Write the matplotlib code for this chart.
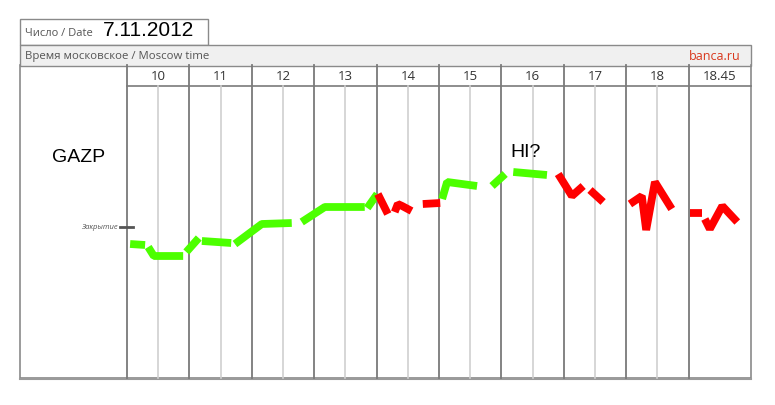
import matplotlib
matplotlib.use("Agg")
import matplotlib.pyplot as plt

# часы (колонки) и штрихи графика GAZP, 7.11.2012
hours = ["10", "11", "12", "13", "14", "15", "16", "17", "18", "18.45"]
close_price = 147.20

stroke_times = [
    [10.05, 10.29],
    [10.34, 10.43, 10.90],
    [10.95, 11.15],
    [11.20, 11.67],
    [11.73, 12.16, 12.64],
    [12.80, 13.17, 13.81],
    [13.85, 14.01],
    [14.02, 14.18],
    [14.29, 14.34, 14.41, 14.56],
    [14.74, 15.02],
    [15.05, 15.13, 15.61],
    [15.85, 16.06],
    [16.19, 16.73],
    [16.91, 17.13, 17.31],
    [17.42, 17.63],
    [18.06, 18.25, 18.32, 18.46, 18.73],
    [19.02, 19.21],
    [19.26, 19.34, 19.54, 19.78],
]
stroke_prices = [
    [146.35, 146.30],
    [146.20, 145.75, 145.75],
    [145.95, 146.65],
    [146.50, 146.40],
    [146.35, 147.35, 147.40],
    [147.45, 148.20, 148.20],
    [148.15, 148.85],
    [148.85, 147.85],
    [147.95, 148.35, 148.25, 148.00],
    [148.35, 148.40],
    [148.60, 149.45, 149.25],
    [149.25, 149.85],
    [149.95, 149.80],
    [149.85, 148.75, 149.25],
    [149.05, 148.45],
    [148.35, 148.75, 147.05, 149.45, 148.10],
    [147.90, 147.90],
    [147.60, 147.10, 148.25, 147.45],
]
stroke_colors = ["green"] * 7 + ["red"] * 3 + ["green"] * 3 + ["red"] * 5

W, H = 775, 406
fig = plt.figure(figsize=(W / 100, H / 100), dpi=100)

# рамка и шапка в пикселях
frame = fig.add_axes([0, 0, 1, 1])
frame.set_xlim(0, W)
frame.set_ylim(H, 0)
frame.axis("off")

dark = "#7a7a7a"
light = "#cfcfcf"
x0, x1 = 127, 751
colw = (x1 - x0) / 10

# коробка с датой
frame.add_patch(plt.Rectangle((20, 19.5), 188, 26, fill=False, ec="#8a8a8a", lw=1))
frame.text(25, 34, "Число / Date", fontsize=8, color="#555555",
           family="Open Sans", va="center")
frame.text(103, 31, "7.11.2012", fontsize=15, color="black",
           family="Liberation Sans", va="center")

# полоса заголовка
frame.add_patch(plt.Rectangle((20, 45.5), 731, 21, fc="#f0f0f0", ec="#8a8a8a", lw=1))
frame.text(25, 56, "Время московское / Moscow time", fontsize=8.2,
           color="#555555", family="Open Sans", va="center")
frame.text(741, 56, "banca.ru", fontsize=9, color="#d9371c",
           family="Open Sans", va="center", ha="right")

# внешняя рамка
frame.plot([20, 20, 751, 751], [66, 379, 379, 66], color="#8a8a8a", lw=1.2)
frame.plot([x0, x1], [87, 87], color=dark, lw=1.2)
frame.plot([20, 751], [379.5, 379.5], color="#9a9a9a", lw=1.5)

for i, h in enumerate(hours):
    xl = x0 + i * colw
    frame.plot([xl, xl], [66, 379], color=dark, lw=1.3)
    frame.text(xl + colw / 2, 76, h, fontsize=9.5, color="#333333",
               family="Open Sans", ha="center", va="center")
    if i < 9:
        frame.plot([xl + colw / 2] * 2, [87, 379], color=light, lw=1.2)

# график
ax = fig.add_axes([x0 / W, 1 - 379 / H, (x1 - x0) / W, (379 - 87) / H])
ax.set_xlim(10, 20)
ax.set_ylim(139.65, 154.25)
ax.axis("off")
ax.patch.set_alpha(0)

cmap = {"green": "#4cff00", "red": "#ff0000"}
for t, p, c in zip(stroke_times, stroke_prices, stroke_colors):
    ax.plot(t, p, color=cmap[c], lw=5.6, solid_capstyle="butt",
            solid_joinstyle="bevel")

# отметка закрытия
ax.plot([9.88, 10.1], [close_price, close_price], color="#555555", lw=2,
        clip_on=False)
ax.text(9.85, close_price, "Закрытие", fontsize=5.5, style="italic",
        color="#555555", family="Open Sans", ha="right", va="center")

ax.text(9.23, 150.70, "GAZP", fontsize=14, family="Liberation Sans",
        ha="center", va="center")
ax.text(16.38, 150.95, "HI?", fontsize=14, family="Liberation Sans",
        ha="center", va="center")

fig.savefig("out.png", dpi=100)
